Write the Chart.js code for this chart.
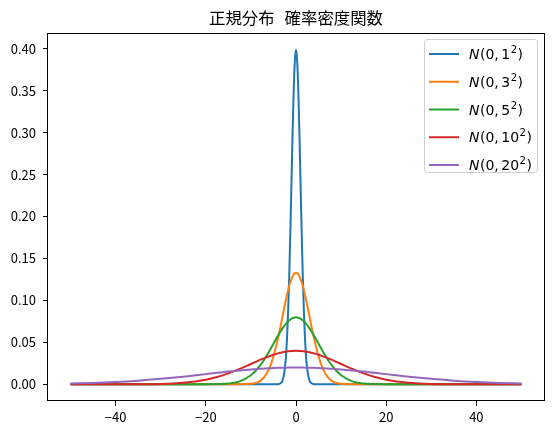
<!DOCTYPE html>
<html>
<head>
<meta charset="utf-8">
<script src="https://cdn.jsdelivr.net/npm/chart.js@4.4.1/dist/chart.umd.min.js"></script>
<style>
body { margin: 0; background: #fff; }
#NormalPdfDiagram { width: 553px; height: 434px; }
</style>
</head>
<body>
<div id="NormalPdfDiagram"><canvas></canvas></div>
<script>
var xValues = [-50, -45, -40, -35, -30, -25, -20, -17.5, -15, -12.5, -10, -9, -8, -7, -6,
               -5, -4, -3.5, -3, -2.5, -2.25, -2, -1.75, -1.5, -1.25, -1, -0.75, -0.5, -0.25,
               0,
               0.25, 0.5, 0.75, 1, 1.25, 1.5, 1.75, 2, 2.25, 2.5, 3, 3.5, 4, 5,
               6, 7, 8, 9, 10, 12.5, 15, 17.5, 20, 25, 30, 35, 40, 45, 50];

var pdfSigma1 = [0, 0, 0, 0, 0, 0, 0, 0, 0, 0, 0, 0, 0, 0, 0,
                 0, 0.0001, 0.0009, 0.0044, 0.0175, 0.0317, 0.0540, 0.0863, 0.1295, 0.1826, 0.2420, 0.3011, 0.3521, 0.3867,
                 0.3989,
                 0.3867, 0.3521, 0.3011, 0.2420, 0.1826, 0.1295, 0.0863, 0.0540, 0.0317, 0.0175, 0.0044, 0.0009, 0.0001, 0,
                 0, 0, 0, 0, 0, 0, 0, 0, 0, 0, 0, 0, 0, 0, 0];

var pdfSigma3 = [0, 0, 0, 0, 0, 0, 0, 0, 0, 0.00002, 0.0005, 0.0015, 0.0038, 0.0087, 0.0180,
                 0.0332, 0.0547, 0.0673, 0.0807, 0.0940, 0.1004, 0.1065, 0.1122, 0.1174, 0.1219, 0.1258, 0.1289, 0.1311, 0.1325,
                 0.1330,
                 0.1325, 0.1311, 0.1289, 0.1258, 0.1219, 0.1174, 0.1122, 0.1065, 0.1004, 0.0940, 0.0807, 0.0673, 0.0547, 0.0332,
                 0.0180, 0.0087, 0.0038, 0.0015, 0.0005, 0.00002, 0, 0, 0, 0, 0, 0, 0, 0, 0];

var pdfSigma5 = [0, 0, 0, 0, 0, 0, 0.00003, 0.0002, 0.0009, 0.0035, 0.0108, 0.0158, 0.0222, 0.0299, 0.0388,
                 0.0484, 0.0579, 0.0625, 0.0666, 0.0704, 0.0721, 0.0737, 0.0750, 0.0763, 0.0773, 0.0782, 0.0789, 0.0794, 0.0797,
                 0.0798,
                 0.0797, 0.0794, 0.0789, 0.0782, 0.0773, 0.0763, 0.0750, 0.0737, 0.0721, 0.0704, 0.0666, 0.0625, 0.0579, 0.0484,
                 0.0388, 0.0299, 0.0222, 0.0158, 0.0108, 0.0035, 0.0009, 0.0002, 0.00003, 0, 0, 0, 0, 0, 0];

var pdfSigma10 = [0, 0, 0.00001, 0.0001, 0.0004, 0.0018, 0.0054, 0.0086, 0.0130, 0.0183, 0.0242, 0.0266, 0.0290, 0.0312, 0.0333,
                  0.0352, 0.0368, 0.0375, 0.0381, 0.0387, 0.0389, 0.0391, 0.0393, 0.0394, 0.0396, 0.0397, 0.0398, 0.0398, 0.0399,
                  0.0399,
                  0.0399, 0.0398, 0.0398, 0.0397, 0.0396, 0.0394, 0.0393, 0.0391, 0.0389, 0.0387, 0.0381, 0.0375, 0.0368, 0.0352,
                  0.0333, 0.0312, 0.0290, 0.0266, 0.0242, 0.0183, 0.0130, 0.0086, 0.0054, 0.0018, 0.0004, 0.0001, 0.00001, 0, 0];

var pdfSigma20 = [0.0009, 0.0016, 0.0027, 0.0043, 0.0065, 0.0091, 0.0121, 0.0136, 0.0151, 0.0164, 0.0176, 0.0180, 0.0184, 0.0188, 0.0191,
                  0.0193, 0.0196, 0.0196, 0.0197, 0.0198, 0.0198, 0.0198, 0.0199, 0.0199, 0.0199, 0.0199, 0.0199, 0.0199, 0.0199,
                  0.0199,
                  0.0199, 0.0199, 0.0199, 0.0199, 0.0199, 0.0199, 0.0199, 0.0198, 0.0198, 0.0198, 0.0197, 0.0196, 0.0196, 0.0193,
                  0.0191, 0.0188, 0.0184, 0.0180, 0.0176, 0.0164, 0.0151, 0.0136, 0.0121, 0.0091, 0.0065, 0.0043, 0.0027, 0.0016, 0.0009];

var seriesValues = [pdfSigma1, pdfSigma3, pdfSigma5, pdfSigma10, pdfSigma20];
var seriesSigmas = ["1", "3", "5", "10", "20"];
var seriesLabels = ["N(0, 1²)", "N(0, 3²)", "N(0, 5²)", "N(0, 10²)", "N(0, 20²)"];
var seriesColors = ["#1f77b4", "#ff7f0e", "#2ca02c", "#d62728", "#9467bd"];

var xTickValues = [-40, -20, 0, 20, 40];
var yTickValues = [0, 0.05, 0.10, 0.15, 0.20, 0.25, 0.30, 0.35, 0.40];

var diagramTitle = "正規分布 確率密度関数";


// title centred over the axes (not the whole canvas), wide space like the original font
var TitlePlugin = {
    id: "axesTitle",
    afterDraw: function (chart) {
        var ctx = chart.ctx, a = chart.chartArea;
        var parts = diagramTitle.split(" ");
        var gap = 10;
        ctx.save();
        ctx.font = "16.4px 'Noto Sans CJK JP'";
        ctx.fillStyle = "#000";
        ctx.textBaseline = "middle";
        var total = gap * (parts.length - 1);
        for (var i = 0; i < parts.length; ++i) total += ctx.measureText(parts[i]).width;
        var x = (a.left + a.right) / 2 - total / 2;
        for (var i = 0; i < parts.length; ++i) {
            ctx.fillText(parts[i], x, 18);
            x += ctx.measureText(parts[i]).width + gap;
        }
        ctx.restore();
    }
};

// frame around the plot area (matplotlib style spines)
var FramePlugin = {
    id: "frame",
    afterDatasetsDraw: function (chart) {
        var ctx = chart.ctx, a = chart.chartArea;
        ctx.save();
        ctx.strokeStyle = "#000";
        ctx.lineWidth = 1;
        ctx.strokeRect(Math.round(a.left) - 0.5, Math.round(a.top) + 0.5,
                       Math.round(a.right - a.left) + 1, Math.round(a.bottom - a.top) - 1);
        ctx.restore();
    }
};

// legend box in the upper right corner, with mathtext-like labels
var LegendPlugin = {
    id: "mathLegend",
    afterDraw: function (chart) {
        var ctx = chart.ctx, a = chart.chartArea;
        var box_w = 113, box_h = 133;
        var bx = a.right - 7 - box_w, by = a.top + 6;
        ctx.save();
        ctx.beginPath();
        ctx.roundRect(bx + 0.5, by + 0.5, box_w, box_h, 3);
        ctx.fillStyle = "rgba(255,255,255,0.8)";
        ctx.fill();
        ctx.strokeStyle = "#d0d0d0";
        ctx.lineWidth = 1;
        ctx.stroke();

        for (var i = 0; i < seriesSigmas.length; ++i) {
            var y = by + 15 + i * 27.75;
            ctx.beginPath();
            ctx.moveTo(bx + 5, y);
            ctx.lineTo(bx + 35, y);
            ctx.strokeStyle = seriesColors[i];
            ctx.lineWidth = 2;
            ctx.stroke();

            var x = bx + 45, base = y + 5;
            ctx.fillStyle = "#000";
            ctx.textBaseline = "alphabetic";
            ctx.font = "italic 14px 'DejaVu Sans'";
            ctx.fillText("N", x, base);
            x += ctx.measureText("N").width + 0.5;
            ctx.font = "14px 'DejaVu Sans'";
            ctx.fillText("(0,", x, base);
            x += ctx.measureText("(0,").width + 2.5;
            ctx.fillText(seriesSigmas[i], x, base);
            x += ctx.measureText(seriesSigmas[i]).width + 0.5;
            ctx.font = "10px 'DejaVu Sans'";
            ctx.fillText("2", x, base - 6);
            x += ctx.measureText("2").width + 0.5;
            ctx.font = "14px 'DejaVu Sans'";
            ctx.fillText(")", x, base);
        }
        ctx.restore();
    }
};


document.addEventListener('DOMContentLoaded', function () {
    var canvas = document.querySelector("#NormalPdfDiagram canvas");

    var datasets = [];
    for (var s = 0; s < seriesValues.length; ++s) {
        var data = [];
        for (var i = 0; i < xValues.length; ++i) {
            data.push({x: xValues[i], y: seriesValues[s][i]});
        }
        datasets.push({
            label: seriesLabels[s],
            data: data,
            borderColor: seriesColors[s],
            backgroundColor: seriesColors[s],
            borderWidth: 2,
            pointRadius: 0,
            fill: false,
            cubicInterpolationMode: "monotone",
            order: -s   // later series on top, like matplotlib
        });
    }

    var tickFont = {family: "'Noto Sans CJK JP'", size: 13};

    new Chart(canvas, {
        type: "line",
        data: {datasets: datasets},
        plugins: [FramePlugin, LegendPlugin, TitlePlugin],
        options: {
            responsive: true,
            maintainAspectRatio: false,
            animation: false,
            devicePixelRatio: 1,
            layout: {padding: {left: 0, right: 9, top: 33, bottom: 0}},
            scales: {
                x: {
                    type: "linear",
                    min: -55,
                    max: 55,
                    afterBuildTicks: function (axis) {
                        axis.ticks = xTickValues.map(function (v) { return {value: v}; });
                    },
                    afterFit: function (axis) { axis.height = 33; },
                    grid: {display: true, drawOnChartArea: false, drawTicks: true,
                           tickLength: 5, color: "#000", lineWidth: 1},
                    border: {display: false},
                    ticks: {
                        color: "#000",
                        font: tickFont,
                        padding: 3,
                        maxRotation: 0,
                        callback: function (v) { return v < 0 ? "\u2212" + Math.abs(v) : String(v); }
                    }
                },
                y: {
                    type: "linear",
                    min: -0.01995,
                    max: 0.41889,
                    afterBuildTicks: function (axis) {
                        axis.ticks = yTickValues.map(function (v) { return {value: v}; });
                    },
                    afterFit: function (axis) { axis.width = 48; },
                    grid: {display: true, drawOnChartArea: false, drawTicks: true,
                           tickLength: 5, color: "#000", lineWidth: 1},
                    border: {display: false},
                    ticks: {
                        color: "#000",
                        font: tickFont,
                        padding: 7,
                        callback: function (v) { return Number(v).toFixed(2); }
                    }
                }
            },
            plugins: {
                legend: {display: false},
                tooltip: {enabled: false},
                title: {display: false}
            }
        }
    });
});
</script>
</body>
</html>
